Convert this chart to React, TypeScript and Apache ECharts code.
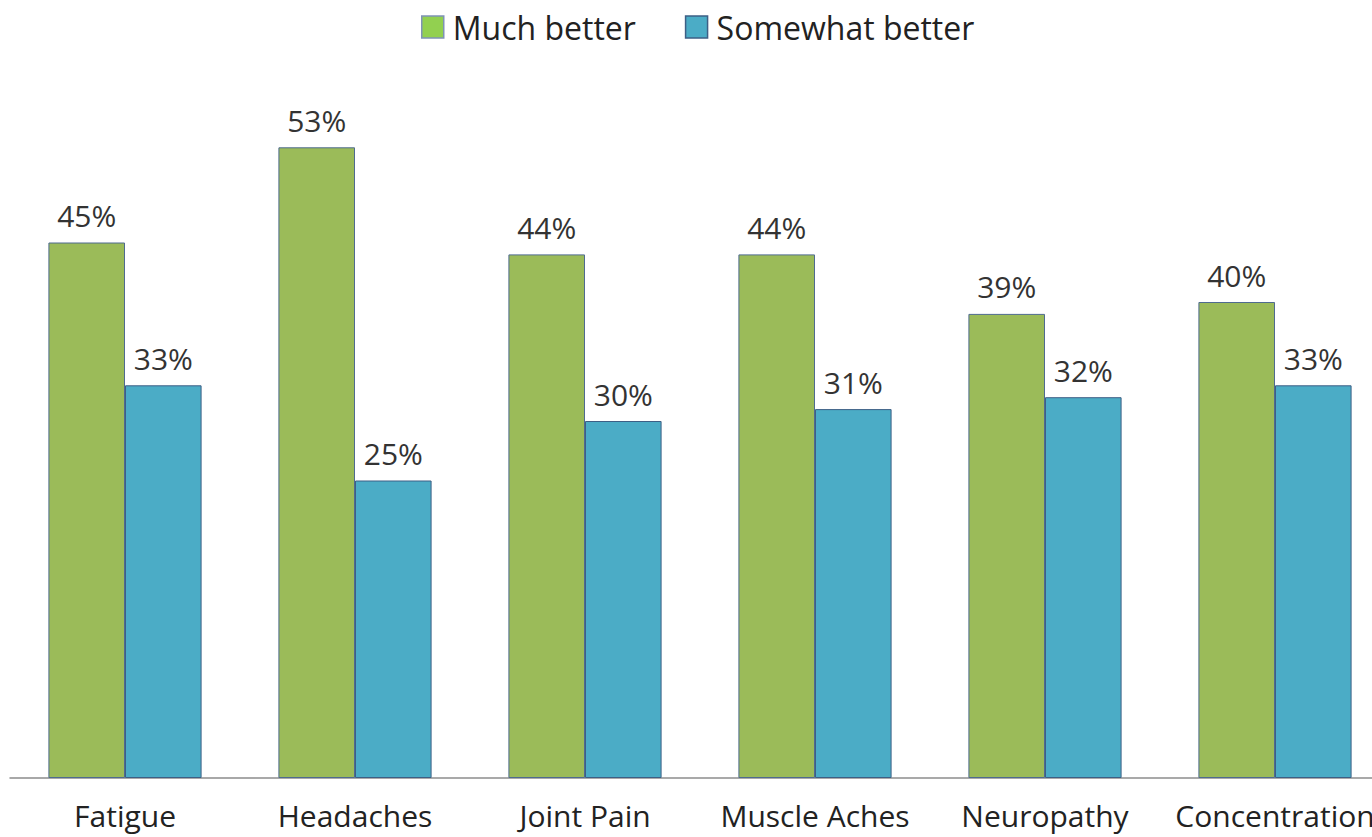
import React, { useEffect, useRef } from "react";
import * as echarts from "echarts";

const categories = ["Fatigue", "Headaches", "Joint Pain", "Muscle Aches", "Neuropathy", "Concentration"];
const muchBetter = [45, 53, 44, 44, 39, 40];
const somewhatBetter = [33, 25, 30, 31, 32, 33];
const seriesNames = ["Much better", "Somewhat better"];

const FONT = "'Open Sans', 'Noto Sans', sans-serif";

export default function App() {
  const ref = useRef<HTMLDivElement>(null);

  useEffect(() => {
    if (!ref.current) return;
    const chart = echarts.init(ref.current, null, { renderer: "svg" });
    const label = {
      show: true,
      position: "top" as const,
      distance: 12,
      formatter: "{c}%",
      fontFamily: FONT,
      fontSize: 30,
      color: "#333",
    };
    chart.setOption({
      animation: false,
      backgroundColor: "#fff",
      legend: {
        top: 6,
        left: 416,
        itemWidth: 22,
        itemHeight: 22,
        itemGap: 49,
        icon: "rect",
        textStyle: { fontFamily: FONT, fontSize: 32, color: "#222", padding: [0, 0, 0, 4] },
        data: [
          { name: seriesNames[0], itemStyle: { color: "#92d050", borderColor: "#7f93b5", borderWidth: 1.5 } },
          { name: seriesNames[1], itemStyle: { color: "#4bacc6", borderColor: "#3d5f85", borderWidth: 1.5 } },
        ],
      },
      grid: { left: 10, width: 1380, top: 64, bottom: 59, outerBoundsMode: "none", containLabel: false },
      xAxis: {
        type: "category",
        data: categories,
        axisLine: { show: true, lineStyle: { color: "#8c8c8c", width: 1.5 } },
        axisTick: { show: false },
        axisLabel: { fontFamily: FONT, fontSize: 30, color: "#222", margin: 22, interval: 0, lineHeight: 30 },
      },
      yAxis: {
        type: "value",
        min: 0,
        max: 60,
        show: false,
        splitLine: { show: false },
      },
      series: [
        {
          name: seriesNames[0],
          type: "bar",
          data: muchBetter,
          barGap: "0%",
          barCategoryGap: "33.4%",
          itemStyle: { color: "#9bbb59", borderColor: "#4f6b8f", borderWidth: 1 },
          label,
        },
        {
          name: seriesNames[1],
          type: "bar",
          data: somewhatBetter,
          itemStyle: { color: "#4bacc6", borderColor: "#3d5f85", borderWidth: 1 },
          label,
        },
      ],
    });
    return () => chart.dispose();
  }, []);

  return (
    <div
      ref={ref}
      style={{ position: "fixed", left: 0, top: 0, width: 1372, height: 837 }}
    />
  );
}
